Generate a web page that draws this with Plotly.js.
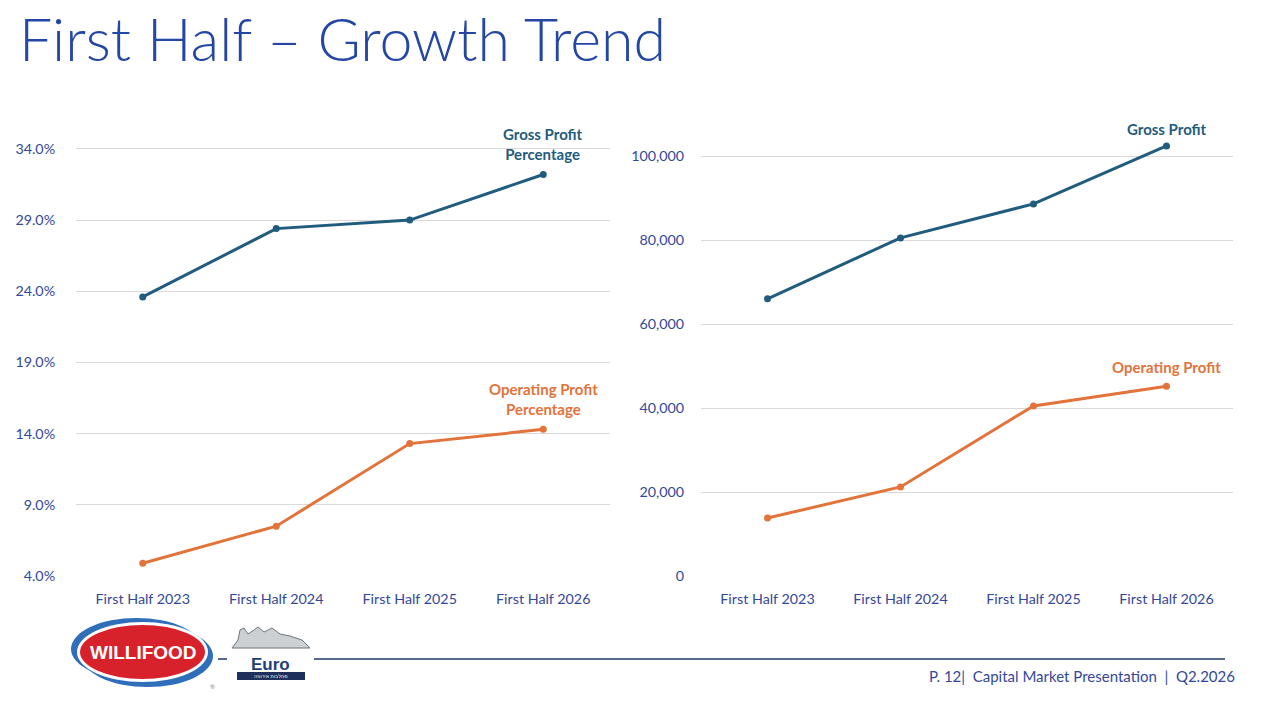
<!DOCTYPE html>
<html>
<head>
<meta charset="utf-8">
<script src="https://cdn.plot.ly/plotly-3.0.1.min.js"></script>
<style>
  html, body { margin: 0; padding: 0; background: #fff; }
  #chart { width: 1280px; height: 720px; }
</style>
</head>
<body>
<div id="chart"></div>
<script>
// Chart data
const periods = ['First Half 2023', 'First Half 2024', 'First Half 2025', 'First Half 2026'];
const grossPct = [23.6, 28.4, 29.0, 32.2];
const operatingPct = [4.9, 7.5, 13.3, 14.3];
const grossProfit = [66000, 80500, 88600, 102400];
const operatingProfit = [13800, 21200, 40500, 45200];
const pctTicks = [4, 9, 14, 19, 24, 29, 34];
const valTicks = [0, 20000, 40000, 60000, 80000, 100000];

const BLUE = '#1F5C7E', ORANGE = '#E2733A';
const TICK = '#34489B', NAVY = '#1F3864';
const FONT = 'Lato, "Open Sans", sans-serif';

// pixel helpers for paper coords
const px = v => v / 1280;
const py = v => 1 - v / 720;

function lineTrace(y, color, xa, ya) {
    return {
        x: periods, y: y, xaxis: xa, yaxis: ya,
        type: 'scatter', mode: 'lines+markers', cliponaxis: false,
        line: { color: color, width: 3 },
        marker: { color: color, size: 7 },
        hoverinfo: 'skip', showlegend: false
    };
}

const traces = [
    lineTrace(grossPct, BLUE, 'x', 'y'),
    lineTrace(operatingPct, ORANGE, 'x', 'y'),
    lineTrace(grossProfit, BLUE, 'x2', 'y2'),
    lineTrace(operatingProfit, ORANGE, 'x2', 'y2')
];

const xBase = {
    type: 'category', range: [-0.5, 3.5], showgrid: false, zeroline: false,
    showline: false, ticks: 'outside', ticklen: 10, tickcolor: 'rgba(0,0,0,0)',
    tickfont: { family: FONT, size: 14.3, color: TICK }, fixedrange: true
};
const yBase = {
    showgrid: true, gridcolor: '#D9D9D9', gridwidth: 1, zeroline: false,
    showline: false, ticks: 'outside', tickcolor: 'rgba(0,0,0,0)',
    tickfont: { family: FONT, size: 14.3, color: TICK }, fixedrange: true
};

// label above the last point of each line
function endLabel(text, y, color, xr, yr, shift) {
    return {
        text: text, x: 3, y: y, xref: xr, yref: yr,
        xanchor: 'center', yanchor: 'bottom', yshift: shift, showarrow: false,
        font: { family: FONT, size: 15, color: color, weight: 'bold' }, align: 'center'
    };
}

const annotations = [
    { text: 'First Half – Growth Trend', xref: 'paper', yref: 'paper', x: px(17), y: py(38),
      xanchor: 'left', yanchor: 'middle', showarrow: false,
      font: { family: FONT, size: 59, color: '#2446A4', weight: 300 } },
    endLabel('Gross Profit<br>Percentage', grossPct[3], BLUE, 'x', 'y', 9),
    endLabel('Operating Profit<br>Percentage', operatingPct[3], ORANGE, 'x', 'y', 9),
    endLabel('Gross Profit', grossProfit[3], BLUE, 'x2', 'y2', 6),
    endLabel('Operating Profit', operatingProfit[3], ORANGE, 'x2', 'y2', 8),
    // footer
    { text: 'P. 12|  Capital Market Presentation  |  Q2.2026', xref: 'paper', yref: 'paper',
      x: px(1237), y: py(676), xanchor: 'right', yanchor: 'middle', showarrow: false,
      font: { family: FONT, size: 15, color: TICK } },
    // logos
    { text: '<b>WILLIFOOD</b>', xref: 'paper', yref: 'paper', x: px(143), y: py(652),
      xanchor: 'center', yanchor: 'middle', showarrow: false,
      font: { family: '"Liberation Sans Narrow", "Liberation Sans", sans-serif', size: 19, color: '#fff' } },
    { text: '®', xref: 'paper', yref: 'paper', x: px(212), y: py(686),
      xanchor: 'center', yanchor: 'middle', showarrow: false,
      font: { family: FONT, size: 6, color: '#888' } },
    { text: '<b>Euro</b>', xref: 'paper', yref: 'paper', x: px(270), y: py(664),
      xanchor: 'center', yanchor: 'middle', showarrow: false,
      font: { family: '"Liberation Sans", sans-serif', size: 17, color: '#1E3F7A' } },
    { text: 'מחלבות אירופה', xref: 'paper', yref: 'paper', x: px(271), y: py(676),
      xanchor: 'center', yanchor: 'middle', showarrow: false,
      font: { family: '"DejaVu Sans", sans-serif', size: 5, color: '#fff' } }
];

const shapes = [
    // footer rule
    { type: 'line', xref: 'paper', yref: 'paper', x0: px(314), x1: px(1225), y0: py(659), y1: py(659),
      line: { color: NAVY, width: 1.5 } },
    { type: 'line', xref: 'paper', yref: 'paper', x0: px(218), x1: px(227), y0: py(659), y1: py(659),
      line: { color: NAVY, width: 1.5 } },
    // willifood oval: blue swoosh offset top-left / bottom-right, white rim, red body
    { type: 'circle', xref: 'paper', yref: 'paper', x0: px(71), x1: px(202), y0: py(680), y1: py(618),
      fillcolor: '#2F6EBA', line: { width: 0 }, layer: 'above' },
    { type: 'circle', xref: 'paper', yref: 'paper', x0: px(82), x1: px(213), y0: py(687), y1: py(625),
      fillcolor: '#2F6EBA', line: { width: 0 }, layer: 'above' },
    { type: 'circle', xref: 'paper', yref: 'paper', x0: px(77), x1: px(208), y0: py(682), y1: py(622),
      fillcolor: '#ffffff', line: { width: 0 }, layer: 'above' },
    { type: 'circle', xref: 'paper', yref: 'paper', x0: px(80), x1: px(205), y0: py(679), y1: py(625),
      fillcolor: '#D7222B', line: { width: 0 }, layer: 'above' },
    // euro banner and village sketch
    { type: 'rect', xref: 'paper', yref: 'paper', x0: px(237), x1: px(305), y0: py(680), y1: py(672),
      fillcolor: '#1E2F5C', line: { width: 0 } },
    { type: 'path', xref: 'paper', yref: 'paper', layer: 'above',
      path: `M ${px(232)} ${py(648)} L ${px(238)} ${py(640)} L ${px(240)} ${py(630)} L ${px(244)} ${py(628)} L ${px(248)} ${py(634)} L ${px(254)} ${py(630)} L ${px(258)} ${py(627)} L ${px(264)} ${py(632)} L ${px(272)} ${py(628)} L ${px(280)} ${py(634)} L ${px(290)} ${py(636)} L ${px(302)} ${py(640)} L ${px(310)} ${py(648)} Z`,
      fillcolor: 'rgba(90,100,110,0.3)', line: { color: '#6E767E', width: 1 } }
];

const layout = {
    width: 1280, height: 720,
    margin: { l: 0, r: 0, t: 0, b: 0 },
    paper_bgcolor: '#fff', plot_bgcolor: 'rgba(0,0,0,0)',
    showlegend: false,
    xaxis: Object.assign({}, xBase, { domain: [px(76), px(610)], anchor: 'y' }),
    yaxis: Object.assign({}, yBase, {
        domain: [py(576), py(120.4)], anchor: 'x', range: [4, 36],
        tickvals: pctTicks, ticktext: pctTicks.map(v => v.toFixed(1) + '%'), ticklen: 17
    }),
    xaxis2: Object.assign({}, xBase, { domain: [px(701), px(1233)], anchor: 'y2' }),
    yaxis2: Object.assign({}, yBase, {
        domain: [py(576), py(126.6)], anchor: 'x2', range: [0, 107000],
        tickvals: valTicks, ticktext: valTicks.map(v => v.toLocaleString('en-US')), ticklen: 13
    }),
    annotations: annotations,
    shapes: shapes
};

Plotly.newPlot('chart', traces, layout, { staticPlot: true, displayModeBar: false });
</script>
</body>
</html>
